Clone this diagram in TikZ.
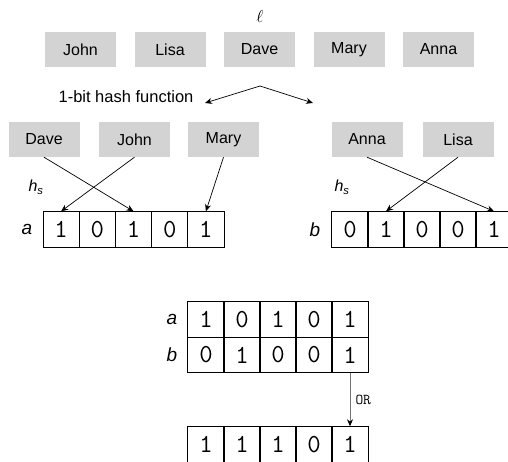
\documentclass[tikz,border=0pt]{standalone}
\usepackage{fontspec}
\setmainfont{Liberation Sans}
\usetikzlibrary{arrows.meta}
\definecolor{boxgray}{HTML}{D3D3D3}
\tikzset{
  namebox/.style={fill=boxgray, minimum width=71pt, minimum height=35pt, inner sep=0pt,
    font=\fontsize{16}{16}\selectfont},
  bitcell/.style={draw, line width=0.9pt, minimum width=36.2pt, minimum height=35.5pt,
    inner sep=0pt, font=\fontsize{26}{26}\ttfamily},
  varlabel/.style={inner sep=0pt, font=\fontsize{19}{19}\selectfont\itshape},
  hashlabel/.style={inner sep=0pt, font=\fontsize{16}{16}\selectfont\itshape},
  maparrow/.style={line width=0.7pt, -{Stealth[length=7pt,width=6pt]}},
  orarrow/.style={line width=1pt, draw=black!55, -{Stealth[length=7pt,width=6pt,color=black]}}
}
\begin{document}
\begin{tikzpicture}[x=1pt,y=-1pt]
\useasboundingbox (0,0) rectangle (508,462);
\clip (0,0) rectangle (508,462);

% input list
\node[inner sep=0pt, font=\fontsize{16}{16}\selectfont] (ell) at (260,17) {$\ell$};
\node[namebox] (tJohn) at (80.5,49.5) {John};
\node[namebox] (tLisa) at (170,49.5) {Lisa};
\node[namebox] (tDave) at (259.5,49.5) {Dave};
\node[namebox] (tMary) at (349,49.5) {Mary};
\node[namebox] (tAnna) at (438.5,49.5) {Anna};

% split by the hash function
\node[inner sep=0pt, font=\fontsize{16.5}{17}\selectfont] (hash) at (126,97) {1-bit hash function};
\coordinate (apex) at (260,86);
\coordinate (splitL) at (205,103);
\coordinate (splitR) at (313,103);
\draw[maparrow] (apex) -- (splitL);
\draw[maparrow] (apex) -- (splitR);

% left group
\node[namebox] (lDave) at (44,139.5) {Dave};
\node[namebox] (lJohn) at (134.5,139.5) {John};
\node[namebox] (lMary) at (223.5,139.5) {Mary};
\node[hashlabel] (hsL) at (36,187) {h\textsubscript{s}};
\node[varlabel] (labA) at (27,229.5) {a};
\foreach \v [count=\i] in {1,0,1,0,1}
  \node[bitcell] (a\i) at ({43+36.2*(\i-0.5)},229.5) {\v};
\draw[maparrow] (lDave.south) -- (a3.north);
\draw[maparrow] (lJohn.south) -- (a1.north);
\draw[maparrow] (lMary.south) -- (a5.north);

% right group
\node[namebox] (rAnna) at (367,139.5) {Anna};
\node[namebox] (rLisa) at (458,139.5) {Lisa};
\node[hashlabel] (hsR) at (342,187) {h\textsubscript{s}};
\node[varlabel] (labB) at (315,229.5) {b};
\foreach \v [count=\i] in {0,1,0,0,1}
  \node[bitcell] (b\i) at ({332+36*(\i-0.5)},229.5) {\v};
\draw[maparrow] (rAnna.south) -- (b5.north);
\draw[maparrow] (rLisa.south) -- (b2.north);

% bitwise OR of the two arrays
\node[varlabel] (labA2) at (172,319.5) {a};
\node[varlabel] (labB2) at (172,355) {b};
\foreach \v [count=\i] in {1,0,1,0,1}
  \node[bitcell] (ca\i) at ({188+36*(\i-0.5)},319.5) {\v};
\foreach \v [count=\i] in {0,1,0,0,1}
  \node[bitcell] (cb\i) at ({188+36*(\i-0.5)},355) {\v};
\foreach \v [count=\i] in {1,1,1,0,1}
  \node[bitcell] (r\i) at ({188+36*(\i-0.5)},444.5) {\v};
\draw[orarrow] (cb5.south) -- node[right=5pt, inner sep=0pt, font=\fontsize{15}{15}\ttfamily] (orlab) {OR} (r5.north);
\end{tikzpicture}
\end{document}
